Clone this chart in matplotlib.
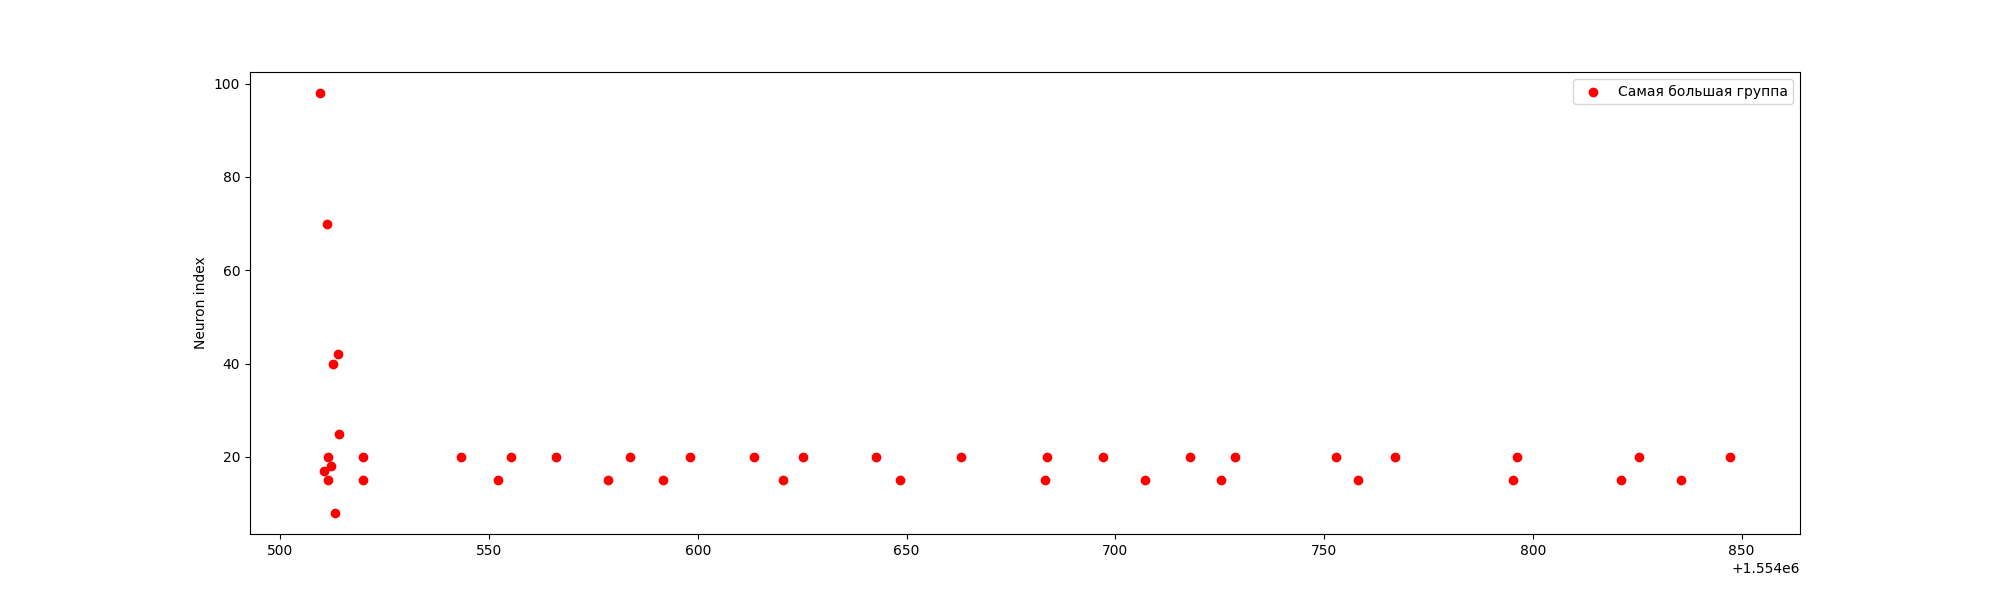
import matplotlib
matplotlib.use("Agg")
import matplotlib.pyplot as plt

spike_times = [
    1554509.6, 1554511.1, 1554513.8, 1554512.6, 1554514.0, 1554511.4,
    1554519.8, 1554512.1, 1554510.4, 1554511.4, 1554519.8, 1554513.1,
    1554543.3, 1554552.2, 1554555.2, 1554565.9, 1554578.5, 1554583.8,
    1554591.7, 1554598.0, 1554613.5, 1554620.3, 1554625.1, 1554642.6,
    1554648.3, 1554663.1, 1554683.2, 1554683.7, 1554697.0, 1554707.2,
    1554717.8, 1554725.2, 1554728.6, 1554752.8, 1554758.1, 1554767.0,
    1554795.3, 1554796.3, 1554821.2, 1554825.3, 1554835.4, 1554847.1,
]
neuron_index = [
    98, 70, 42, 40, 25, 20,
    20, 18, 17, 15, 15, 8,
    20, 15, 20, 20, 15, 20,
    15, 20, 20, 15, 20, 20,
    15, 20, 15, 20, 20, 15,
    20, 15, 20, 20, 15, 20,
    15, 20, 15, 20, 15, 20,
]
label = "Самая большая группа"

fig, ax = plt.subplots(figsize=(20, 6), dpi=100)
ax.scatter(spike_times, neuron_index, color="red", label=label)
ax.set_ylabel("Neuron index")
ax.legend(loc="upper right")
fig.savefig("out.png", dpi=100)
